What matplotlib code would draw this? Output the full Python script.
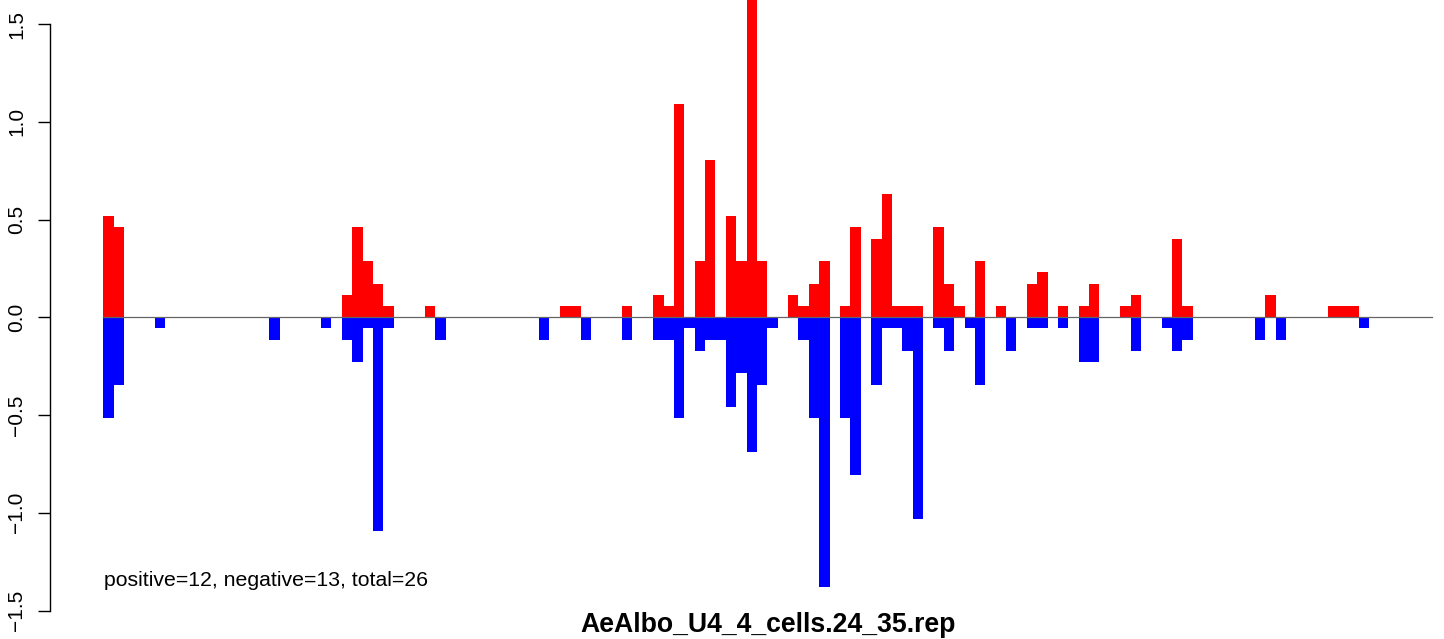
import numpy as np
import matplotlib
matplotlib.use("Agg")
import matplotlib.pyplot as plt

plt.rcParams['font.family'] = ['Liberation Sans', 'DejaVu Sans']

# number of bins along the sequence
n_bins = 128

# positive (red) bars: bin index -> height
pos_bins = [0, 1, 23, 24, 25, 26, 27, 31, 44, 45, 50, 53, 54, 55, 57, 58, 60, 61, 62, 63,
            66, 67, 68, 69, 71, 72, 74, 75, 76, 77, 78, 80, 81, 82, 84, 86, 89, 90, 92, 94,
            95, 98, 99, 103, 104, 112, 118, 119, 120]
pos_vals = [0.517, 0.46, 0.115, 0.46, 0.287, 0.172, 0.057, 0.057, 0.057, 0.057, 0.057, 0.115,
            0.057, 1.092, 0.287, 0.805, 0.517, 0.287, 1.72, 0.287,
            0.115, 0.057, 0.172, 0.287, 0.057, 0.46, 0.402, 0.632, 0.057, 0.057, 0.057, 0.46,
            0.172, 0.057, 0.287, 0.057, 0.172, 0.23, 0.057, 0.057,
            0.172, 0.057, 0.115, 0.402, 0.057, 0.115, 0.057, 0.057, 0.057]

# negative (blue) bars: bin index -> height
neg_bins = [0, 1, 5, 16, 21, 23, 24, 25, 26, 27, 32, 42, 46, 50, 53, 54, 55, 56, 57, 58,
            59, 60, 61, 62, 63, 64, 67, 68, 69, 71, 72, 74, 75, 76, 77, 78, 80, 81, 83, 84,
            87, 89, 90, 92, 94, 95, 99, 102, 103, 104, 111, 113, 121]
neg_vals = [-0.517, -0.345, -0.057, -0.115, -0.057, -0.115, -0.23, -0.057, -1.092, -0.057,
            -0.115, -0.115, -0.115, -0.115, -0.115, -0.115, -0.517, -0.057, -0.172, -0.115,
            -0.115, -0.46, -0.287, -0.69, -0.345, -0.057, -0.115, -0.517, -1.379, -0.517,
            -0.805, -0.345, -0.057, -0.057, -0.172, -1.034, -0.057, -0.172, -0.057, -0.345,
            -0.172, -0.057, -0.057, -0.057, -0.23, -0.23, -0.172, -0.057, -0.172, -0.115,
            -0.115, -0.115, -0.057]

y_ticks = [-1.5, -1.0, -0.5, 0.0, 0.5, 1.0, 1.5]
note = "positive=12, negative=13, total=26"
title = "AeAlbo_U4_4_cells.24_35.rep"

pos = np.zeros(n_bins)
pos[pos_bins] = pos_vals
neg = np.zeros(n_bins)
neg[neg_bins] = neg_vals
x = np.arange(n_bins)

W, H = 1444, 639
fig = plt.figure(figsize=(W / 100, H / 100), dpi=100)
ax = fig.add_axes([50 / W, 1 - 615 / H, 1394 / W, 615 / H])

ax.bar(x, pos, width=1, align='edge', color='#FF0000', linewidth=0)
ax.bar(x, neg, width=1, align='edge', color='#0000FF', linewidth=0)
ax.plot([0, n_bins], [0, 0], color='#666666', lw=0.9, zorder=5)

ax.set_xlim(-5.12, 129.2)
ax.set_ylim(-1.523, 1.623)

for s in ['top', 'right', 'bottom']:
    ax.spines[s].set_visible(False)
ax.spines['left'].set_bounds(-1.5, 1.5)
ax.spines['left'].set_linewidth(1.0)
ax.set_xticks([])
ax.set_yticks(y_ticks)
ax.set_yticklabels([f"{v:.1f}".replace('-', '\u2212') for v in y_ticks],
                   rotation=90, va='center', fontsize=15)
ax.tick_params(axis='y', length=9, width=1.0, pad=8)

fig.text(104 / W, 1 - 580 / H, note, fontsize=15.3, ha='left', va='center')
fig.text(768 / W, 1 - 625 / H, title, fontsize=19.2, fontweight='bold',
         ha='center', va='center')

fig.savefig("out.png", dpi=100)
